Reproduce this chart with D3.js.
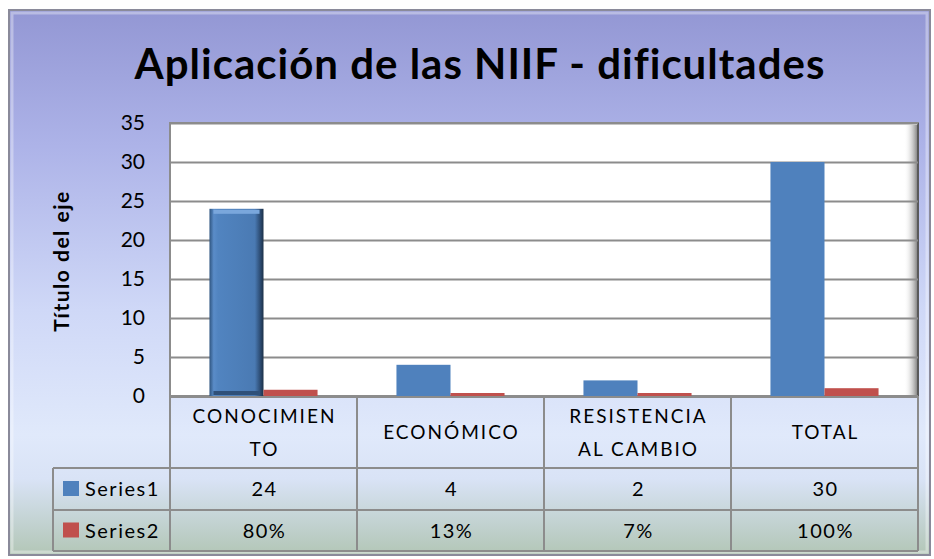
<!DOCTYPE html>
<html>
<head>
<meta charset="utf-8">
<script src="https://cdn.jsdelivr.net/npm/d3@7"></script>
<style>
  body { margin: 0; background: #fff; }
  svg text { font-family: Lato, "Open Sans", sans-serif; fill: #000; }
</style>
</head>
<body>
<div id="chart"></div>
<script>
// chart values
const categories = ['CONOCIMIENTO', 'ECONÓMICO', 'RESISTENCIA AL CAMBIO', 'TOTAL'];
const categoryLines = [['CONOCIMIEN', 'TO'], ['ECONÓMICO'], ['RESISTENCIA', 'AL CAMBIO'], ['TOTAL']];
const seriesNames = ['Series1', 'Series2'];
const series1 = [24, 4, 2, 30];
const series2 = [0.8, 0.13, 0.07, 1];
const series2Labels = ['80%', '13%', '7%', '100%'];
const yTicks = [0, 5, 10, 15, 20, 25, 30, 35];
const colors = ['#4f81bd', '#c0504d'];

const W = 934, H = 559;
const plot = { left: 170, right: 918, top: 123, bottom: 396 };

const svg = d3.select('#chart').append('svg')
  .attr('width', W)
  .attr('height', H);

const defs = svg.append('defs');

// background gradient of the chart area
const bg = defs.append('linearGradient').attr('id', 'bg')
  .attr('x1', 0).attr('y1', 0).attr('x2', 0).attr('y2', 1);
[['0%', '#9397d4'], ['25%', '#adb3e8'], ['55%', '#cfd8f7'], ['78%', '#e0e9fb'],
  ['86%', '#d9e3f6'], ['100%', '#b2c6b6']]
  .forEach(([o, c]) => bg.append('stop').attr('offset', o).attr('stop-color', c));

// shading on the selected first bar
const bevel = defs.append('linearGradient').attr('id', 'bevel')
  .attr('x1', 0).attr('y1', 0).attr('x2', 1).attr('y2', 0);
[['0%', '#2f5580'], ['8%', '#5a8cc8'], ['16%', '#5184c0'], ['84%', '#4a7ab3'],
  ['93%', '#2f5079'], ['100%', '#1c3148']]
  .forEach(([o, c]) => bevel.append('stop').attr('offset', o).attr('stop-color', c));

// right shadow of the plot area
const shade = defs.append('linearGradient').attr('id', 'shade')
  .attr('x1', 0).attr('y1', 0).attr('x2', 1).attr('y2', 0);
[['0%', '#ffffff', 0], ['100%', '#777777', 1]]
  .forEach(([o, c, a]) => shade.append('stop').attr('offset', o).attr('stop-color', c).attr('stop-opacity', a));

// chart frame
svg.append('rect')
  .attr('x', 9).attr('y', 10).attr('width', 921).attr('height', 545)
  .attr('fill', 'url(#bg)')
  .attr('stroke', '#8a8a9a').attr('stroke-width', 2);
svg.append('rect')
  .attr('x', 12).attr('y', 13).attr('width', 915).attr('height', 539)
  .attr('fill', 'none')
  .attr('stroke', '#ffffff').attr('stroke-opacity', 0.35).attr('stroke-width', 3);

// title
svg.append('text')
  .attr('x', 480).attr('y', 79)
  .attr('text-anchor', 'middle')
  .style('font-size', '42px').style('font-weight', 'bold')
  .style('letter-spacing', '1px')
  .text('Aplicación de las NIIF - dificultades');

// scales
const x = d3.scaleBand().domain(categories).range([plot.left, plot.right]);
const xs = d3.scaleBand().domain(seriesNames).range([0, x.bandwidth()]).paddingOuter(0.73);
const y = d3.scaleLinear().domain([0, 35]).range([plot.bottom, plot.top]);

// plot area
svg.append('rect')
  .attr('x', plot.left).attr('y', plot.top)
  .attr('width', plot.right - plot.left).attr('height', plot.bottom - plot.top)
  .attr('fill', '#ffffff')
  .attr('stroke', '#8c8c8c').attr('stroke-width', 2);
svg.append('rect')
  .attr('x', plot.right - 14).attr('y', plot.top + 2)
  .attr('width', 14).attr('height', plot.bottom - plot.top - 2)
  .attr('fill', 'url(#shade)');
svg.append('line')
  .attr('x1', plot.right).attr('x2', plot.right)
  .attr('y1', plot.top).attr('y2', plot.bottom)
  .attr('stroke', '#5a5a5a').attr('stroke-width', 2);

// gridlines
svg.append('g')
  .attr('transform', `translate(${plot.left},0)`)
  .call(d3.axisLeft(y).tickValues(yTicks.slice(1)).tickSize(-(plot.right - plot.left)).tickFormat(''))
  .call(g => g.select('.domain').remove())
  .call(g => g.selectAll('line').attr('stroke', '#8c8c8c').attr('stroke-width', 2));

// baseline
svg.append('line')
  .attr('x1', plot.left).attr('x2', plot.right)
  .attr('y1', plot.bottom).attr('y2', plot.bottom)
  .attr('stroke', '#8c8c8c').attr('stroke-width', 2);

// y axis labels
svg.append('g')
  .attr('transform', `translate(${plot.left},0)`)
  .call(d3.axisLeft(y).tickValues(yTicks).tickSize(0).tickPadding(25))
  .call(g => g.select('.domain').remove())
  .call(g => g.selectAll('text')
    .style('font-size', '21px')
    .style('font-family', 'Lato, sans-serif')
    .attr('fill', '#000'));

// axis title
svg.append('text')
  .attr('transform', 'translate(69,261) rotate(-90)')
  .attr('text-anchor', 'middle')
  .style('font-size', '21px').style('font-weight', 'bold')
  .style('letter-spacing', '1.5px')
  .text('Título del eje');

// bars (thin ones keep a minimal visible height, as in the original)
const rows = categories.map((c, i) => ({ cat: c, values: [series1[i], series2[i]] }));
const groups = svg.append('g').selectAll('g')
  .data(rows)
  .join('g')
  .attr('transform', d => `translate(${x(d.cat)},0)`);

groups.selectAll('rect')
  .data((d, i) => d.values.map((v, j) => ({ v, s: seriesNames[j], j, i })))
  .join('rect')
  .attr('x', d => xs(d.s))
  .attr('y', d => Math.min(y(d.v), y(0) - 3))
  .attr('width', xs.bandwidth())
  .attr('height', d => Math.max(y(0) - y(d.v), 3))
  .attr('fill', d => (d.i === 0 && d.j === 0 ? 'url(#bevel)' : colors[d.j]));

// top highlight and bottom shadow on the selected bar
const selX = x(categories[0]) + xs(seriesNames[0]);
svg.append('rect')
  .attr('x', selX + 4)
  .attr('y', y(series1[0]) + 1)
  .attr('width', xs.bandwidth() - 8)
  .attr('height', 4)
  .attr('fill', '#7aa7dc');
svg.append('rect')
  .attr('x', selX + 4)
  .attr('y', y(0) - 5)
  .attr('width', xs.bandwidth() - 8)
  .attr('height', 4)
  .attr('fill', '#2f5079');

// data table
const table = { header: [plot.bottom, 468], r1: [468, 510], r2: [510, 551], left: 53 };
const tg = svg.append('g')
  .attr('stroke', '#8c8c8c').attr('stroke-width', 2).attr('fill', 'none');

tg.append('line').attr('x1', plot.left).attr('x2', plot.right)
  .attr('y1', table.header[0] + 1).attr('y2', table.header[0] + 1);
tg.append('line').attr('x1', plot.left).attr('x2', plot.right)
  .attr('y1', table.header[1]).attr('y2', table.header[1]);
tg.append('line').attr('x1', table.left).attr('x2', plot.right)
  .attr('y1', table.r1[0]).attr('y2', table.r1[0]);
tg.append('line').attr('x1', table.left).attr('x2', plot.right)
  .attr('y1', table.r2[0]).attr('y2', table.r2[0]);
tg.append('line').attr('x1', table.left).attr('x2', plot.right)
  .attr('y1', table.r2[1]).attr('y2', table.r2[1]);
tg.append('line').attr('x1', table.left).attr('x2', table.left)
  .attr('y1', table.r1[0]).attr('y2', table.r2[1]);
tg.selectAll('.vl')
  .data(categories.concat(['end']))
  .join('line')
  .attr('x1', d => (d === 'end' ? plot.right : x(d)))
  .attr('x2', d => (d === 'end' ? plot.right : x(d)))
  .attr('y1', table.header[0]).attr('y2', table.r2[1]);

// category labels
const catText = svg.append('g').selectAll('text')
  .data(categories)
  .join('text')
  .attr('text-anchor', 'middle')
  .style('font-size', '19px')
  .style('letter-spacing', '2px')
  .attr('x', d => x(d) + x.bandwidth() / 2);
catText.each(function (d, i) {
  const lines = categoryLines[i];
  const mid = (table.header[0] + table.header[1]) / 2;
  const lh = 33;
  const t0 = mid - ((lines.length - 1) * lh) / 2 + 7;
  d3.select(this).selectAll('tspan')
    .data(lines)
    .join('tspan')
    .attr('x', x(d) + x.bandwidth() / 2 + 1)
    .attr('y', (l, k) => t0 + k * lh)
    .text(l => l);
});

// series rows
const seriesRows = [
  { name: seriesNames[0], labels: series1.map(String), band: table.r1, color: colors[0] },
  { name: seriesNames[1], labels: series2Labels, band: table.r2, color: colors[1] },
];
seriesRows.forEach((r) => {
  const mid = (r.band[0] + r.band[1]) / 2;
  svg.append('rect')
    .attr('x', 63).attr('y', mid - 8)
    .attr('width', 16).attr('height', 15)
    .attr('fill', r.color);
  svg.append('text')
    .attr('x', 85).attr('y', mid + 7)
    .style('font-size', '20px')
    .style('letter-spacing', '1.5px')
    .text(r.name);
  svg.append('g').selectAll('text')
    .data(r.labels)
    .join('text')
    .attr('x', (d, i) => x(categories[i]) + x.bandwidth() / 2 + 1)
    .attr('y', mid + 7)
    .attr('text-anchor', 'middle')
    .style('font-size', '20px')
    .style('letter-spacing', '1.5px')
    .text(d => d);
});
</script>
</body>
</html>
